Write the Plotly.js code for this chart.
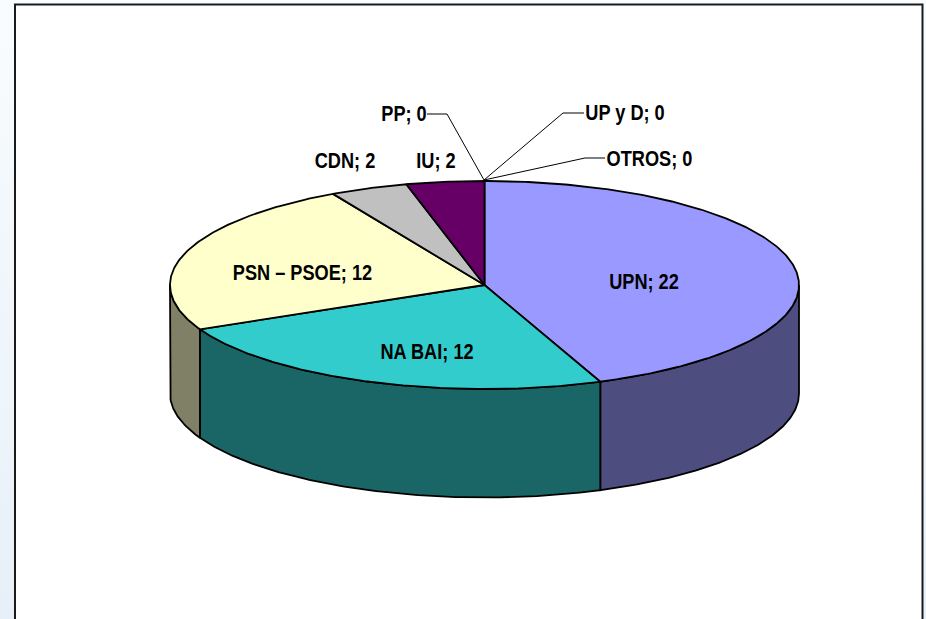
<!DOCTYPE html>
<html>
<head>
<meta charset="utf-8">
<script src="https://cdn.plot.ly/plotly-3.0.1.min.js"></script>
<style>
html,body{margin:0;padding:0;width:926px;height:619px;overflow:hidden;background:linear-gradient(180deg,#f9fcfe 0%,#e7f0f8 100%);}
#chart{width:926px;height:619px;}
</style>
</head>
<body>
<div id="chart"></div>
<script>
var partyNames = ["UPN","NA BAI","PSN – PSOE","CDN","IU","PP","UP y D","OTROS"];
var seats = [22,12,12,2,2,0,0,0];
var topColors = ["#9999FF","#33CCCC","#FFFFCC","#C0C0C0","#660066","#993366","#FF8080","#0066CC"];
var sideColors = ["#4D4D80","#1A6666","#808066","#606060","#330033","#4D1A33","#804040","#003366"];
var labelX = [644,427,302.5,345,436,404,625,649.5];
var labelY = [284,354,275,163,163,116,115,161];
var leaderX = [[427,447,484],[584,563,484],[605,585,484]];
var leaderY = [[114,114,180],[113,113,180],[158,158,180]];

var cx = 484.5, cy = 285, rx = 314.5, ry = 104, depth = 108.5;
var total = seats.reduce(function(a,b){return a+b;},0);
function px(t){return cx + rx*Math.sin(t);}
function py(t){return cy - ry*Math.cos(t);}
function arc(a,b,dy){
  var xs=[],ys=[],n=Math.max(2,Math.ceil(Math.abs(b-a)/0.01));
  for(var i=0;i<=n;i++){var t=a+(b-a)*i/n;xs.push(px(t));ys.push(py(t)+dy);}
  return {x:xs,y:ys};
}
var traces=[];
function poly(x,y,color){
  traces.push({type:"scatter",mode:"lines",x:x,y:y,fill:"toself",fillcolor:color,
    line:{color:"#000",width:1.8},hoverinfo:"skip",showlegend:false});
}
var start=0, sides=[], tops=[];
seats.forEach(function(v,i){
  var end=start+v/total*2*Math.PI;
  if(v>0){
    var a=Math.max(start,Math.PI/2), b=Math.min(end,3*Math.PI/2);
    if(b>a){
      var up=arc(a,b,0), low=arc(b,a,depth);
      sides.push([up.x.concat(low.x,[up.x[0]]),up.y.concat(low.y,[up.y[0]]),sideColors[i]]);
    }
    var e=arc(start,end,0);
    tops.push([[cx].concat(e.x,[cx]),[cy].concat(e.y,[cy]),topColors[i]]);
  }
  start=end;
});
sides.forEach(function(s){poly(s[0],s[1],s[2]);});
tops.forEach(function(s){poly(s[0],s[1],s[2]);});
leaderX.forEach(function(x,i){
  traces.push({type:"scatter",mode:"lines",x:x,y:leaderY[i],line:{color:"#000",width:1},hoverinfo:"skip",showlegend:false});
});
traces.push({type:"scatter",mode:"text",x:labelX,y:labelY,
  text:partyNames.map(function(n,i){return n+"; "+seats[i];}),
  textposition:"middle center",
  textfont:{family:"'Liberation Sans',Arial,sans-serif",size:21.5,color:"#000",weight:700},
  hoverinfo:"skip",showlegend:false});

var layout={
  width:926,height:619,
  margin:{l:0,r:0,t:0,b:0},
  paper_bgcolor:"rgba(0,0,0,0)",plot_bgcolor:"rgba(0,0,0,0)",
  xaxis:{range:[0,926],visible:false,fixedrange:true},
  yaxis:{range:[619,0],visible:false,fixedrange:true},
  showlegend:false,
  shapes:[{type:"rect",layer:"below",xref:"x",yref:"y",x0:15,x1:922.5,y0:4.5,y1:660,
    fillcolor:"#FFFFFF",line:{color:"#1a1a1a",width:2}}]
};
var narrow = 0.845;
Plotly.newPlot("chart",traces,layout,{displayModeBar:false,staticPlot:true}).then(function(gd){
  gd.querySelectorAll(".textpoint text").forEach(function(t){
    t.setAttribute("lengthAdjust","spacingAndGlyphs");
    t.setAttribute("textLength",t.getComputedTextLength()*narrow);
  });
});
</script>
</body>
</html>
